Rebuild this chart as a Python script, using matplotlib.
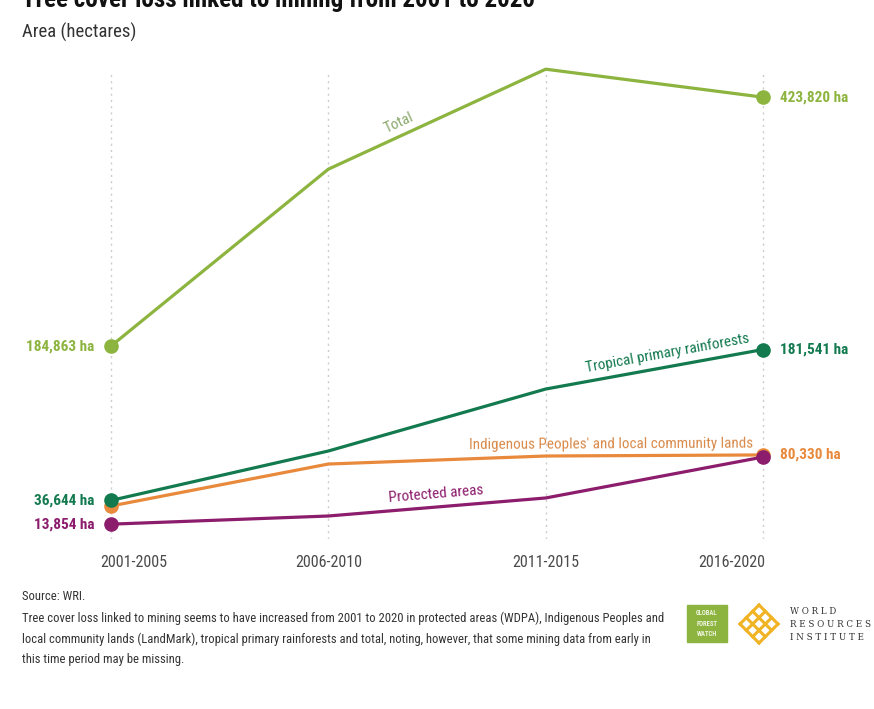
import matplotlib
matplotlib.use("Agg")
import matplotlib.pyplot as plt
from matplotlib import font_manager
from matplotlib.patches import Rectangle
import matplotlib.transforms as mtransforms
import numpy as np

# data
periods = ["2001-2005", "2006-2010", "2011-2015", "2016-2020"]
total = [184863, 354700, 450700, 423820]
tropical = [36644, 84100, 143600, 181541]
indigenous = [31300, 71600, 79300, 80330]
protected = [13854, 21700, 39000, 78300]

series_names = ["Total", "Tropical primary rainforests",
                "Indigenous Peoples' and local community lands", "Protected areas"]
colors = ["#8cb43f", "#137a4f", "#e8893b", "#8c1c6c"]


def pick_font(cands):
    have = set(f.name for f in font_manager.fontManager.ttflist)
    for c in cands:
        if c in have:
            return c
    return "DejaVu Sans"


narrow = pick_font(["Roboto Condensed", "Liberation Sans Narrow", "DejaVu Sans"])
plt.rcParams["font.family"] = [narrow, "DejaVu Sans"]

W, H = 874, 709
fig = plt.figure(figsize=(W / 100, H / 100), dpi=100)


def fx(x):
    return x / W


def fy(y):
    return 1 - y / H


# axes: x 0 -> 111px, 3 -> 763px ; y 0 -> 538.6px, top 72px
ax = fig.add_axes([fx(2.3), fy(538.6), fx(871.7) - fx(2.3), fy(72) - fy(538.6)])
ax.set_xlim(-0.5, 3.5)
ax.set_ylim(0, 448000)
for s in ax.spines.values():
    s.set_visible(False)
ax.set_yticks([])
x = np.arange(len(periods))
ax.set_xticks(x)
ax.set_xticklabels(periods, fontsize=11.5, color="#4a4a4a")
ax.tick_params(axis="x", length=0, pad=12)
ax.grid(axis="x", linestyle=(0, (1.5, 3)), color="#cccccc", linewidth=1)

# edge tick labels sit a bit inward
labs = ax.get_xticklabels()
labs[0].set_transform(labs[0].get_transform() +
                      mtransforms.ScaledTranslation(23 / 100, 0, fig.dpi_scale_trans))
labs[-1].set_transform(labs[-1].get_transform() +
                       mtransforms.ScaledTranslation(-31 / 100, 0, fig.dpi_scale_trans))

data = [total, tropical, indigenous, protected]
zs = [3, 5, 4, 6]
for vals, col, z in zip(data, colors, zs):
    ax.plot(x, vals, color=col, lw=2.3, zorder=z, clip_on=False, solid_capstyle="round")
    ax.plot([x[0], x[-1]], [vals[0], vals[-1]], "o", color=col, ms=9.5,
            zorder=z + 0.5, clip_on=False)


def vlabel(xi, val, col, side):
    txt = f"{val:,} ha"
    off = -12 if side == "left" else 12
    ax.annotate(txt, (xi, val), xytext=(off, 0), textcoords="offset points",
                ha="right" if side == "left" else "left", va="center",
                color=col, fontsize=11, fontweight="bold")


vlabel(0, total[0], colors[0], "left")
vlabel(0, tropical[0], colors[1], "left")
vlabel(0, protected[0], colors[3], "left")
vlabel(3, total[-1], colors[0], "right")
vlabel(3, tropical[-1], colors[1], "right")
vlabel(3, indigenous[-1], colors[2], "right")

fig.canvas.draw()


def line_label(vals, i, frac, text, col, off):
    x0, x1 = i, i + 1
    y0, y1 = vals[i], vals[i + 1]
    p0 = ax.transData.transform((x0, y0))
    p1 = ax.transData.transform((x1, y1))
    ang = np.degrees(np.arctan2(p1[1] - p0[1], p1[0] - p0[0]))
    xm = x0 + frac
    ym = y0 + frac * (y1 - y0)
    dx = -np.sin(np.radians(ang)) * off
    dy = np.cos(np.radians(ang)) * off
    ax.annotate(text, (xm, ym), xytext=(dx, dy), textcoords="offset points",
                ha="center", va="center", rotation=ang, rotation_mode="anchor",
                color=col, fontsize=10.9, zorder=10)


line_label(total, 1, 0.35, series_names[0], "#8aa86a", 9)
line_label(tropical, 2, 0.57, series_names[1], colors[1], 10)
line_label(indigenous, 2, 0.30, series_names[2], "#d98a4a", 8.5)
line_label(protected, 1, 0.50, series_names[3], colors[3], 9.5)

# title (cut off at top, as in the source) and subtitle
fig.text(fx(22), fy(7), "Tree cover loss linked to mining from 2001 to 2020",
         fontsize=18, fontweight="bold", color="#111111", ha="left", va="baseline")
fig.text(fx(22), fy(32), "Area (hectares)", fontsize=13.5, color="#333333",
         ha="left", va="center")

# footer
foot = ["Source: WRI.",
        "Tree cover loss linked to mining seems to have increased from 2001 to 2020 in protected areas (WDPA), Indigenous Peoples and",
        "local community lands (LandMark), tropical primary rainforests and total, noting, however, that some mining data from early in",
        "this time period may be missing."]
for k, line in enumerate(foot):
    fig.text(fx(22), fy(597 + 21 * k), line, fontsize=9.05, color="#333333",
             ha="left", va="center")

# logos
fig.patches.append(Rectangle((fx(687), fy(642)), fx(40), fy(605) - fy(642),
                             transform=fig.transFigure, color="#8cb43f"))
for k, w in enumerate(["GLOBAL", "FOREST", "WATCH"]):
    fig.text(fx(707), fy(613 + 10.5 * k), w, fontsize=4.8, fontweight="bold",
             color="#eef4e0", ha="center", va="center")

gold = "#f0b323"
cx, cy, R = 759, 624, 19
for c in np.linspace(-R / 2, R / 2, 4):
    b = np.array([-R / 2, R / 2])
    fig.add_artist(plt.Line2D(fx(cx + c + b), fy(cy + c - b),
                              transform=fig.transFigure, color=gold, lw=2.2))
    fig.add_artist(plt.Line2D(fx(cx + b + c), fy(cy + b - c),
                              transform=fig.transFigure, color=gold, lw=2.2))
for k, w in enumerate(["W O R L D", "R E S O U R C E S", "I N S T I T U T E"]):
    fig.text(fx(790), fy(611 + 13.5 * k), w, fontsize=6.3, family="DejaVu Serif",
             color="#333333", ha="left", va="center")

fig.savefig("out.png", dpi=100, facecolor="white")
